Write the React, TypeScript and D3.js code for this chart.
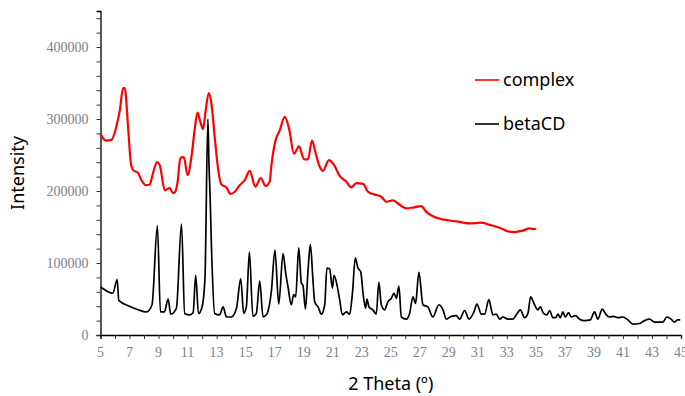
import React, { useEffect, useRef } from 'react';
import * as d3 from 'd3';

// 2 Theta values and intensities
const betaTheta = [
  5, 5.85, 6.15, 6.26, 7.0, 7.6, 8.17, 8.55, 8.92, 9.13, 9.4, 9.66, 9.84, 10.23, 10.58, 10.8, 11.15, 11.38,
  11.56, 11.75, 12.0, 12.2, 12.4, 12.47, 12.55, 12.65, 12.87, 13.2, 13.45, 13.68, 14.02, 14.37, 14.66, 14.87,
  15.05, 15.26, 15.5, 15.74, 15.97, 16.2, 16.43, 16.78, 17.02, 17.28, 17.58, 17.76, 17.92, 18.15, 18.31, 18.45,
  18.66, 18.84, 18.95, 19.12, 19.3, 19.46, 19.64, 19.76, 19.99, 20.22, 20.45, 20.6, 20.79, 20.98, 21.09, 21.3,
  21.48, 21.67, 21.94, 22.17, 22.36, 22.56, 22.74, 22.93, 23.09, 23.27, 23.36, 23.5, 23.77, 24.0, 24.18, 24.35,
  24.58, 24.8, 25.04, 25.22, 25.39, 25.56, 25.73, 26.07, 26.3, 26.53, 26.71, 26.94, 27.22, 27.56, 27.9, 28.32,
  28.6, 28.83, 29.18, 29.52, 29.75, 30.09, 30.39, 30.73, 30.94, 31.24, 31.47, 31.76, 32.04, 32.27, 32.5, 32.73,
  33.07, 33.42, 33.65, 33.93, 34.22, 34.45, 34.64, 34.91, 35.14, 35.3, 35.53, 35.76, 35.95, 36.17, 36.36, 36.52,
  36.68, 36.86, 37.02, 37.25, 37.44, 37.73, 38.01, 38.35, 38.75, 39.04, 39.27, 39.57, 39.85, 40.07, 40.35, 40.65,
  40.99, 41.34, 41.68, 42.14, 42.49, 42.83, 43.18, 43.52, 43.75, 44.02, 44.32, 44.55, 44.78, 44.95,
];
const betaIntensity = [
  67000, 58000, 77000, 48000, 40000, 35000, 32000, 42000, 152000, 32000, 32000, 50000, 29000, 37000, 154000, 30000, 28000, 31000,
  83000, 30000, 39000, 80000, 300000, 240000, 195000, 120000, 30000, 28000, 39000, 25000, 25000, 37000, 78000, 30000,
  39000, 115000, 26000, 30000, 75000, 25000, 28000, 62000, 118000, 43000, 113000, 86000, 67000, 42000, 56000, 53000,
  121000, 72000, 69000, 36000, 90000, 126000, 76000, 46000, 39000, 29000, 42000, 93000, 92000, 65000, 83000, 69000,
  49000, 28000, 32000, 29000, 58000, 107000, 93000, 88000, 58000, 37000, 50000, 39000, 35000, 29000, 73000, 42000,
  35000, 46000, 51000, 58000, 51000, 68000, 25000, 22000, 30000, 53000, 44000, 87000, 42000, 39000, 25000, 42000,
  35000, 22000, 26000, 27000, 22000, 34000, 22000, 32000, 43000, 29000, 29000, 49000, 28000, 29000, 22000, 25000,
  22000, 22000, 28000, 35000, 24000, 30000, 53000, 42000, 35000, 39000, 30000, 28000, 34000, 24000, 24000, 29000,
  24000, 32000, 25000, 31000, 25000, 27000, 22000, 20000, 21000, 32000, 22000, 36000, 28000, 25000, 26000, 24000,
  25000, 21000, 15000, 16000, 20000, 22000, 18000, 18000, 18000, 25000, 22000, 18000, 21000, 21000,
];

const complexTheta = [
  5, 5.37, 5.75, 6.1, 6.33, 6.56, 6.67, 6.9, 7.09, 7.25, 7.59, 7.82, 8.12, 8.39, 8.62, 8.9, 9.08, 9.43, 9.77,
  10.0, 10.12, 10.3, 10.51, 10.74, 11.0, 11.27, 11.5, 11.68, 11.84, 12.07, 12.25, 12.46, 12.64, 12.87, 13.1, 13.33,
  13.68, 13.95, 14.25, 14.59, 14.94, 15.28, 15.67, 16.04, 16.38, 16.66, 16.78, 17.07, 17.35, 17.69, 17.99, 18.33,
  18.68, 19.02, 19.3, 19.57, 19.83, 20.1, 20.33, 20.74, 21.07, 21.48, 21.94, 22.28, 22.63, 23.09, 23.43, 23.89,
  24.35, 24.7, 25.15, 25.61, 26.07, 26.53, 27.1, 27.45, 27.9, 28.48, 29.06, 29.75, 30.43, 31.24, 31.81, 32.5,
  33.07, 33.53, 34.1, 34.56, 34.91, 35.0,
];
const complexIntensity = [
  279000, 270000, 271000, 290000, 312000, 343000, 343000, 289000, 239000, 229000, 225000, 215000, 208000, 209000, 225000, 240000, 236000, 201000, 204000,
  197000, 198000, 211000, 246000, 247000, 222000, 248000, 287000, 309000, 299000, 286000, 312000, 336000, 322000, 275000, 231000, 209000,
  205000, 196000, 199000, 208000, 215000, 228000, 206000, 218000, 207000, 213000, 236000, 271000, 284000, 303000, 287000, 252000,
  262000, 244000, 244000, 270000, 252000, 234000, 228000, 243000, 237000, 221000, 213000, 205000, 211000, 210000, 199000, 195000,
  192000, 185000, 187000, 181000, 176000, 177000, 179000, 171000, 165000, 161000, 159000, 157000, 155000, 156000, 153000, 149000,
  144000, 143000, 145000, 148000, 147000, 148000,
];

const xTicks = d3.range(5, 46, 2);
const yTicks = [0, 100000, 200000, 300000, 400000];
const legendItems = [
  { label: 'complex', color: '#ff0000' },
  { label: 'betaCD', color: '#000000' },
];

const App = () => {
  const svgRef = useRef(null);

  useEffect(() => {
    const width = 685;
    const height = 396;
    const svg = d3.select(svgRef.current);
    svg.selectAll('*').remove();

    const x = d3.scaleLinear().domain([5, 45]).range([100.5, 681]);
    const y = d3.scaleLinear().domain([0, 450000]).range([335, 11]);
    const tickColor = '#7b7f8f';
    const serif = '"Liberation Serif", "DejaVu Serif", serif';
    const sans = '"Noto Sans", "Open Sans", sans-serif';

    // x axis
    const xAxis = svg.append('g')
      .attr('transform', `translate(0,${y(0)})`)
      .call(d3.axisBottom(x).tickValues(d3.range(5, 46, 1)).tickSize(4).tickFormat(() => ''));
    xAxis.select('.domain').attr('stroke', '#000').attr('stroke-width', 1.3);
    xAxis.selectAll('.tick line').attr('stroke', '#333');
    svg.append('g').selectAll('text').data(xTicks).join('text')
      .attr('x', d => x(d))
      .attr('y', y(0) + 22)
      .attr('text-anchor', 'middle')
      .attr('font-family', serif)
      .attr('font-size', 14)
      .attr('fill', tickColor)
      .text(d => d);

    // y axis
    const yAxis = svg.append('g')
      .attr('transform', `translate(${x(5)},0)`)
      .call(d3.axisLeft(y).tickValues(d3.range(0, 450001, 20000)).tickSize(4).tickFormat(() => ''));
    yAxis.select('.domain').attr('stroke', '#000').attr('stroke-width', 1.3);
    yAxis.selectAll('.tick line').attr('stroke', '#333');
    svg.append('g').selectAll('text').data(yTicks).join('text')
      .attr('x', x(5) - 12)
      .attr('y', d => y(d) + 5)
      .attr('text-anchor', 'end')
      .attr('font-family', serif)
      .attr('font-size', 14)
      .attr('fill', tickColor)
      .text(d => d);

    // axis titles
    svg.append('text')
      .attr('transform', `translate(24,${(y(0) + y(450000)) / 2}) rotate(-90)`)
      .attr('text-anchor', 'middle')
      .attr('font-family', sans)
      .attr('font-size', 18)
      .attr('fill', '#000')
      .text('Intensity');
    svg.append('text')
      .attr('x', (x(5) + x(45)) / 2)
      .attr('y', 390)
      .attr('text-anchor', 'middle')
      .attr('font-family', sans)
      .attr('font-size', 18)
      .attr('fill', '#000')
      .text('2 Theta (º)');

    const line = d3.line<number>()
      .x(d => x(d[0]))
      .y(d => y(d[1]))
      .curve(d3.curveMonotoneX);

    const betaPts = betaTheta.map((t, i) => [t, betaIntensity[i]]);
    const complexPts = complexTheta.map((t, i) => [t, complexIntensity[i]]);

    svg.append('path')
      .datum(betaPts)
      .attr('fill', 'none')
      .attr('stroke', '#000')
      .attr('stroke-width', 1.7)
      .attr('stroke-linejoin', 'round')
      .attr('d', line);

    svg.append('path')
      .datum(complexPts)
      .attr('fill', 'none')
      .attr('stroke', '#ff0000')
      .attr('stroke-width', 2.2)
      .attr('stroke-linejoin', 'round')
      .attr('d', line);

    // legend
    const legend = svg.append('g');
    legendItems.forEach((item, i) => {
      const ly = 80 + i * 44;
      legend.append('line')
        .attr('x1', 475).attr('x2', 499)
        .attr('y1', ly).attr('y2', ly)
        .attr('stroke', item.color)
        .attr('stroke-width', 1.6);
      legend.append('text')
        .attr('x', 503)
        .attr('y', ly + 6)
        .attr('font-family', sans)
        .attr('font-size', 18)
        .attr('fill', '#000')
        .text(item.label);
    });

    svg.attr('width', width).attr('height', height);
  }, []);

  return (
    <div style={{ position: 'absolute', left: 0, top: 0, background: '#fff' }}>
      <svg ref={svgRef} width={685} height={396} />
    </div>
  );
};

export default App;
